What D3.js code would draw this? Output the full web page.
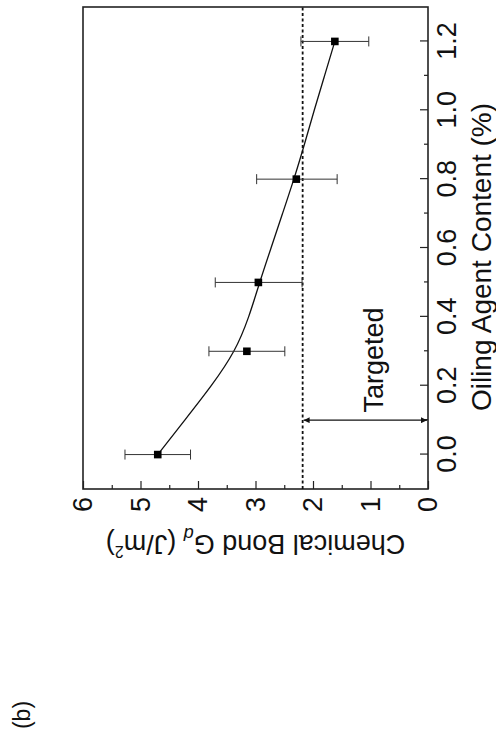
<!DOCTYPE html>
<html>
<head>
<meta charset="utf-8">
<script src="https://cdn.jsdelivr.net/npm/d3@7"></script>
<style>
  body { margin: 0; background: #fff; }
  text { font-family: "Liberation Sans", Arial, Helvetica, sans-serif; fill: #111; }
</style>
</head>
<body>
<div id="chartContainer"></div>
<script>
// measured points (oiling agent %, chemical bond J/m2)
const content = [0.0, 0.3, 0.5, 0.8, 1.2]
const bond = [4.70, 3.15, 2.95, 2.29, 1.62]
const errLow = [4.13, 2.49, 2.19, 1.58, 1.03]
const errHigh = [5.27, 3.81, 3.70, 2.98, 2.21]

// fitted curve
const fitX = [0.0, 0.1, 0.2, 0.3, 0.4, 0.5, 0.6, 0.7, 0.8, 0.9, 1.0, 1.1, 1.2]
const fitY = [4.70, 4.23, 3.76, 3.35, 3.11, 2.93, 2.73, 2.53, 2.33, 2.15, 1.98, 1.80, 1.62]

const xTicks = [0.0, 0.2, 0.4, 0.6, 0.8, 1.0, 1.2]
const xMinor = [0.1, 0.3, 0.5, 0.7, 0.9, 1.1]
const yTicks = [0, 1, 2, 3, 4, 5, 6]
const yMinor = [0.5, 1.5, 2.5, 3.5, 4.5, 5.5]

const targetLevel = 2.18
const targetAt = 0.1
const targetLabel = "Targeted"

const width = 496, height = 742
// plot size in the chart's own (unrotated) frame
const pw = 482, ph = 345

const x = d3.scaleLinear().domain([-0.1, 1.3]).range([0, pw])
const y = d3.scaleLinear().domain([0, 6]).range([ph, 0])

const svg = d3.select('#chartContainer')
  .append('svg')
  .attr('width', width)
  .attr('height', height)

svg.append("defs").append("marker")
    .attr("id", "head")
    .attr("viewBox", "0 0 10 10")
    .attr("refX", 10).attr("refY", 5)
    .attr("markerWidth", 10).attr("markerHeight", 6)
    .attr("markerUnits", "userSpaceOnUse")
    .attr("orient", "auto-start-reverse")
  .append("path")
    .attr("d", "M0,0L10,5L0,10z")
    .attr("fill", "#111")

// whole figure is turned a quarter to the left
const g = svg.append("g")
    .attr("transform", "translate(83,489) rotate(-90)")

const fs = 27

// axes
const xAxis = g.append("g")
    .attr("transform", `translate(0,${ph})`)
    .call(d3.axisBottom(x).tickValues(xTicks).tickSizeInner(-8).tickSizeOuter(0)
      .tickPadding(9).tickFormat(d3.format(".1f")))
xAxis.append("g")
    .call(d3.axisBottom(x).tickValues(xMinor).tickSizeInner(-4).tickSizeOuter(0).tickFormat(""))

const yAxis = g.append("g")
    .call(d3.axisLeft(y).tickValues(yTicks).tickSizeInner(-8).tickSizeOuter(0)
      .tickPadding(8).tickFormat(d3.format("d")))
yAxis.append("g")
    .call(d3.axisLeft(y).tickValues(yMinor).tickSizeInner(-4).tickSizeOuter(0).tickFormat(""))

g.selectAll(".domain").remove()
g.selectAll(".tick line").attr("stroke", "#222").attr("stroke-width", 1.2)
g.selectAll(".tick text").attr("font-size", fs).attr("font-family", null)

// frame
g.append("rect")
    .attr("width", pw).attr("height", ph)
    .attr("fill", "none")
    .attr("stroke", "#222")
    .attr("stroke-width", 1.6)

// target level
g.append("line")
    .attr("x1", 0).attr("x2", pw)
    .attr("y1", y(targetLevel)).attr("y2", y(targetLevel))
    .attr("stroke", "#111")
    .attr("stroke-width", 1.8)
    .attr("stroke-dasharray", "3,2.5")

g.append("line")
    .attr("x1", x(targetAt)).attr("x2", x(targetAt))
    .attr("y1", y(targetLevel) + 1).attr("y2", ph - 1)
    .attr("stroke", "#111")
    .attr("stroke-width", 1.2)
    .attr("marker-start", "url(#head)")
    .attr("marker-end", "url(#head)")

g.append("text")
    .attr("x", x(0.122))
    .attr("y", y(0.78))
    .attr("font-size", fs)
    .text(targetLabel)

// fit curve
const line = d3.line()
    .x(i => x(fitX[i]))
    .y(i => y(fitY[i]))
    .curve(d3.curveBasis)

g.append("path")
    .attr("d", line(d3.range(fitX.length)))
    .attr("fill", "none")
    .attr("stroke", "#111")
    .attr("stroke-width", 1.3)

// error bars
const pts = g.append("g")
  .selectAll("g")
  .data(d3.range(content.length))
  .join("g")
    .attr("transform", i => `translate(${x(content[i])},0)`)

pts.append("line")
    .attr("y1", i => y(errLow[i])).attr("y2", i => y(errHigh[i]))
    .attr("stroke", "#333").attr("stroke-width", 1)
pts.append("line")
    .attr("x1", -5).attr("x2", 5)
    .attr("y1", i => y(errLow[i])).attr("y2", i => y(errLow[i]))
    .attr("stroke", "#333").attr("stroke-width", 1)
pts.append("line")
    .attr("x1", -5).attr("x2", 5)
    .attr("y1", i => y(errHigh[i])).attr("y2", i => y(errHigh[i]))
    .attr("stroke", "#333").attr("stroke-width", 1)
pts.append("rect")
    .attr("x", -3.8).attr("y", i => y(bond[i]) - 3.8)
    .attr("width", 7.6).attr("height", 7.6)
    .attr("fill", "#000")

// axis titles
g.append("text")
    .attr("x", pw / 2 - 9)
    .attr("y", ph + 63)
    .attr("text-anchor", "middle")
    .attr("font-size", 28)
    .text("Oiling Agent Content (%)")

const yt = g.append("text")
    .attr("transform", `translate(-46,${ph / 2}) rotate(-90)`)
    .attr("text-anchor", "middle")
    .attr("font-size", 27)
yt.append("tspan").text("Chemical Bond G")
yt.append("tspan").attr("font-size", 18).attr("font-style", "italic").attr("dy", 7).text("d")
yt.append("tspan").attr("dy", -7).text(" (J/m")
yt.append("tspan").attr("font-size", 16).attr("dy", -11).text("2")
yt.append("tspan").attr("dy", 11).text(")")

// panel letter
g.append("text")
    .attr("x", -226)
    .attr("y", -61)
    .attr("dy", "0.35em")
    .attr("text-anchor", "middle")
    .attr("font-size", 23)
    .text("(b)")
</script>
</body>
</html>
